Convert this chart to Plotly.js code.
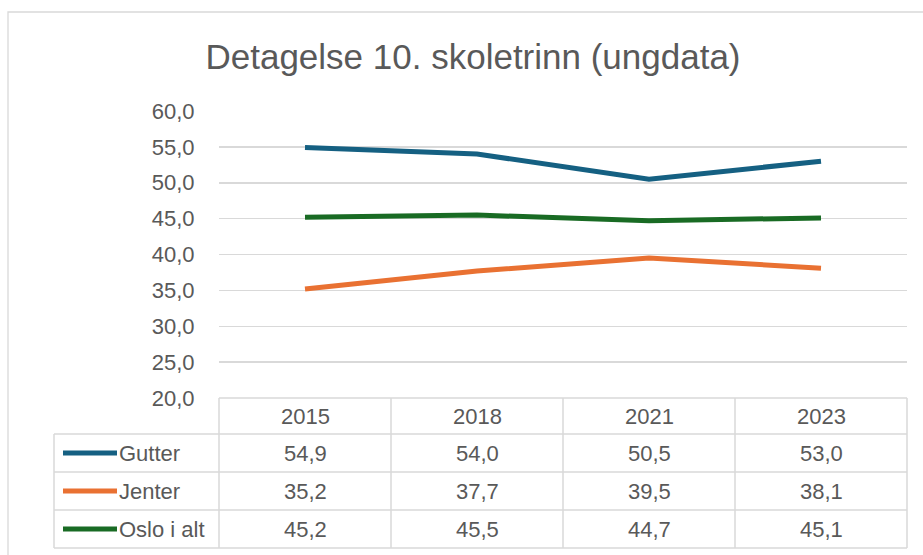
<!DOCTYPE html>
<html>
<head>
<meta charset="utf-8">
<script src="https://cdn.plot.ly/plotly-3.0.1.min.js"></script>
<style>
html,body{margin:0;padding:0;background:#fff;}
#chart{width:923px;height:555px;}
</style>
</head>
<body>
<div id="chart"></div>
<script>
const years = ['2015', '2018', '2021', '2023'];
const seriesNames = ['Gutter', 'Jenter', 'Oslo i alt'];
const gutter = [54.9, 54.0, 50.5, 53.0];
const jenter = [35.2, 37.7, 39.5, 38.1];
const osloIAlt = [45.2, 45.5, 44.7, 45.1];
const yTicks = [20, 25, 30, 35, 40, 45, 50, 55, 60];

const seriesValues = [gutter, jenter, osloIAlt];
const colors = ['#156082', '#E97132', '#196B24'];

const W = 923, H = 555;
const plotL = 219, plotR = 907, plotT = 111, plotB = 398;
const FONT = 'Liberation Sans, Arial, sans-serif';
const TXT = '#595959';
const GRID = '#d9d9d9';
const FS = 22;

function px(x) { return (x - plotL) / (plotR - plotL); }
function py(y) { return (plotB - y) / (plotB - plotT); }
function fmt(v) { return v.toFixed(1).replace('.', ','); }

const traces = seriesNames.map((name, i) => ({
  type: 'scatter', mode: 'lines', name: name,
  x: years, y: seriesValues[i],
  line: {color: colors[i], width: 5},
  hoverinfo: 'skip'
}));

const rowLines = [434, 472, 510, 548];
const headerTop = plotB;
const colEdges = [219, 391, 563, 735, 907];
const tableLeft = 54;

const shapes = [];
shapes.push({type: 'rect', xref: 'paper', yref: 'paper', x0: px(8), x1: px(960), y0: py(12), y1: py(600),
  line: {color: GRID, width: 1.3}, layer: 'below'});
shapes.push({type: 'line', xref: 'paper', yref: 'paper', x0: px(plotL), x1: px(plotR), y0: py(headerTop), y1: py(headerTop), line: {color: GRID, width: 1.5}});
rowLines.forEach(r => shapes.push({type: 'line', xref: 'paper', yref: 'paper', x0: px(tableLeft), x1: px(plotR), y0: py(r), y1: py(r), line: {color: GRID, width: 1.5}}));
colEdges.forEach(c => shapes.push({type: 'line', xref: 'paper', yref: 'paper', x0: px(c), x1: px(c), y0: py(headerTop), y1: py(548), line: {color: GRID, width: 1.5}}));
shapes.push({type: 'line', xref: 'paper', yref: 'paper', x0: px(tableLeft), x1: px(tableLeft), y0: py(rowLines[0]), y1: py(548), line: {color: GRID, width: 1.5}});

const annotations = [];
const headerMid = (headerTop + rowLines[0]) / 2;
years.forEach((yr, j) => annotations.push({xref: 'x', yref: 'paper', x: j, y: py(headerMid + 1), text: yr, showarrow: false,
  font: {family: FONT, size: FS, color: TXT}, xanchor: 'center', yanchor: 'middle'}));
seriesNames.forEach((name, i) => {
  const mid = (rowLines[i] + rowLines[i + 1]) / 2;
  shapes.push({type: 'line', xref: 'paper', yref: 'paper', x0: px(63), x1: px(117), y0: py(mid), y1: py(mid),
    line: {color: colors[i], width: 5}});
  annotations.push({xref: 'paper', yref: 'paper', x: px(117), y: py(mid), text: name, showarrow: false,
    font: {family: FONT, size: FS, color: TXT}, xanchor: 'left', yanchor: 'middle'});
  seriesValues[i].forEach((v, j) => annotations.push({xref: 'x', yref: 'paper', x: j, y: py(mid), text: fmt(v), showarrow: false,
    font: {family: FONT, size: FS, color: TXT}, xanchor: 'center', yanchor: 'middle'}));
});

const layout = {
  width: W, height: H,
  margin: {l: plotL, r: W - plotR, t: plotT, b: H - plotB, pad: 0},
  paper_bgcolor: '#ffffff', plot_bgcolor: '#ffffff',
  separators: ', ',
  showlegend: false,
  title: {text: 'Detagelse 10. skoletrinn (ungdata)', xref: 'paper', x: px(473), xanchor: 'center',
    yref: 'container', y: 1 - 57 / H, yanchor: 'middle',
    font: {family: FONT, size: 35, color: TXT}},
  xaxis: {type: 'category', range: [-0.5, 3.5], showticklabels: false, showgrid: false, zeroline: false, showline: false, ticks: ''},
  yaxis: {range: [20, 60], tickvals: yTicks, ticktext: yTicks.map(fmt), showgrid: true, gridcolor: GRID, gridwidth: 1.5,
    zeroline: false, showline: false, ticks: 'outside', ticklen: 19, tickcolor: 'rgba(0,0,0,0)',
    tickfont: {family: FONT, size: FS, color: TXT}},
  shapes: shapes,
  annotations: annotations
};

Plotly.newPlot('chart', traces, layout, {displayModeBar: false, staticPlot: true});
</script>
</body>
</html>
